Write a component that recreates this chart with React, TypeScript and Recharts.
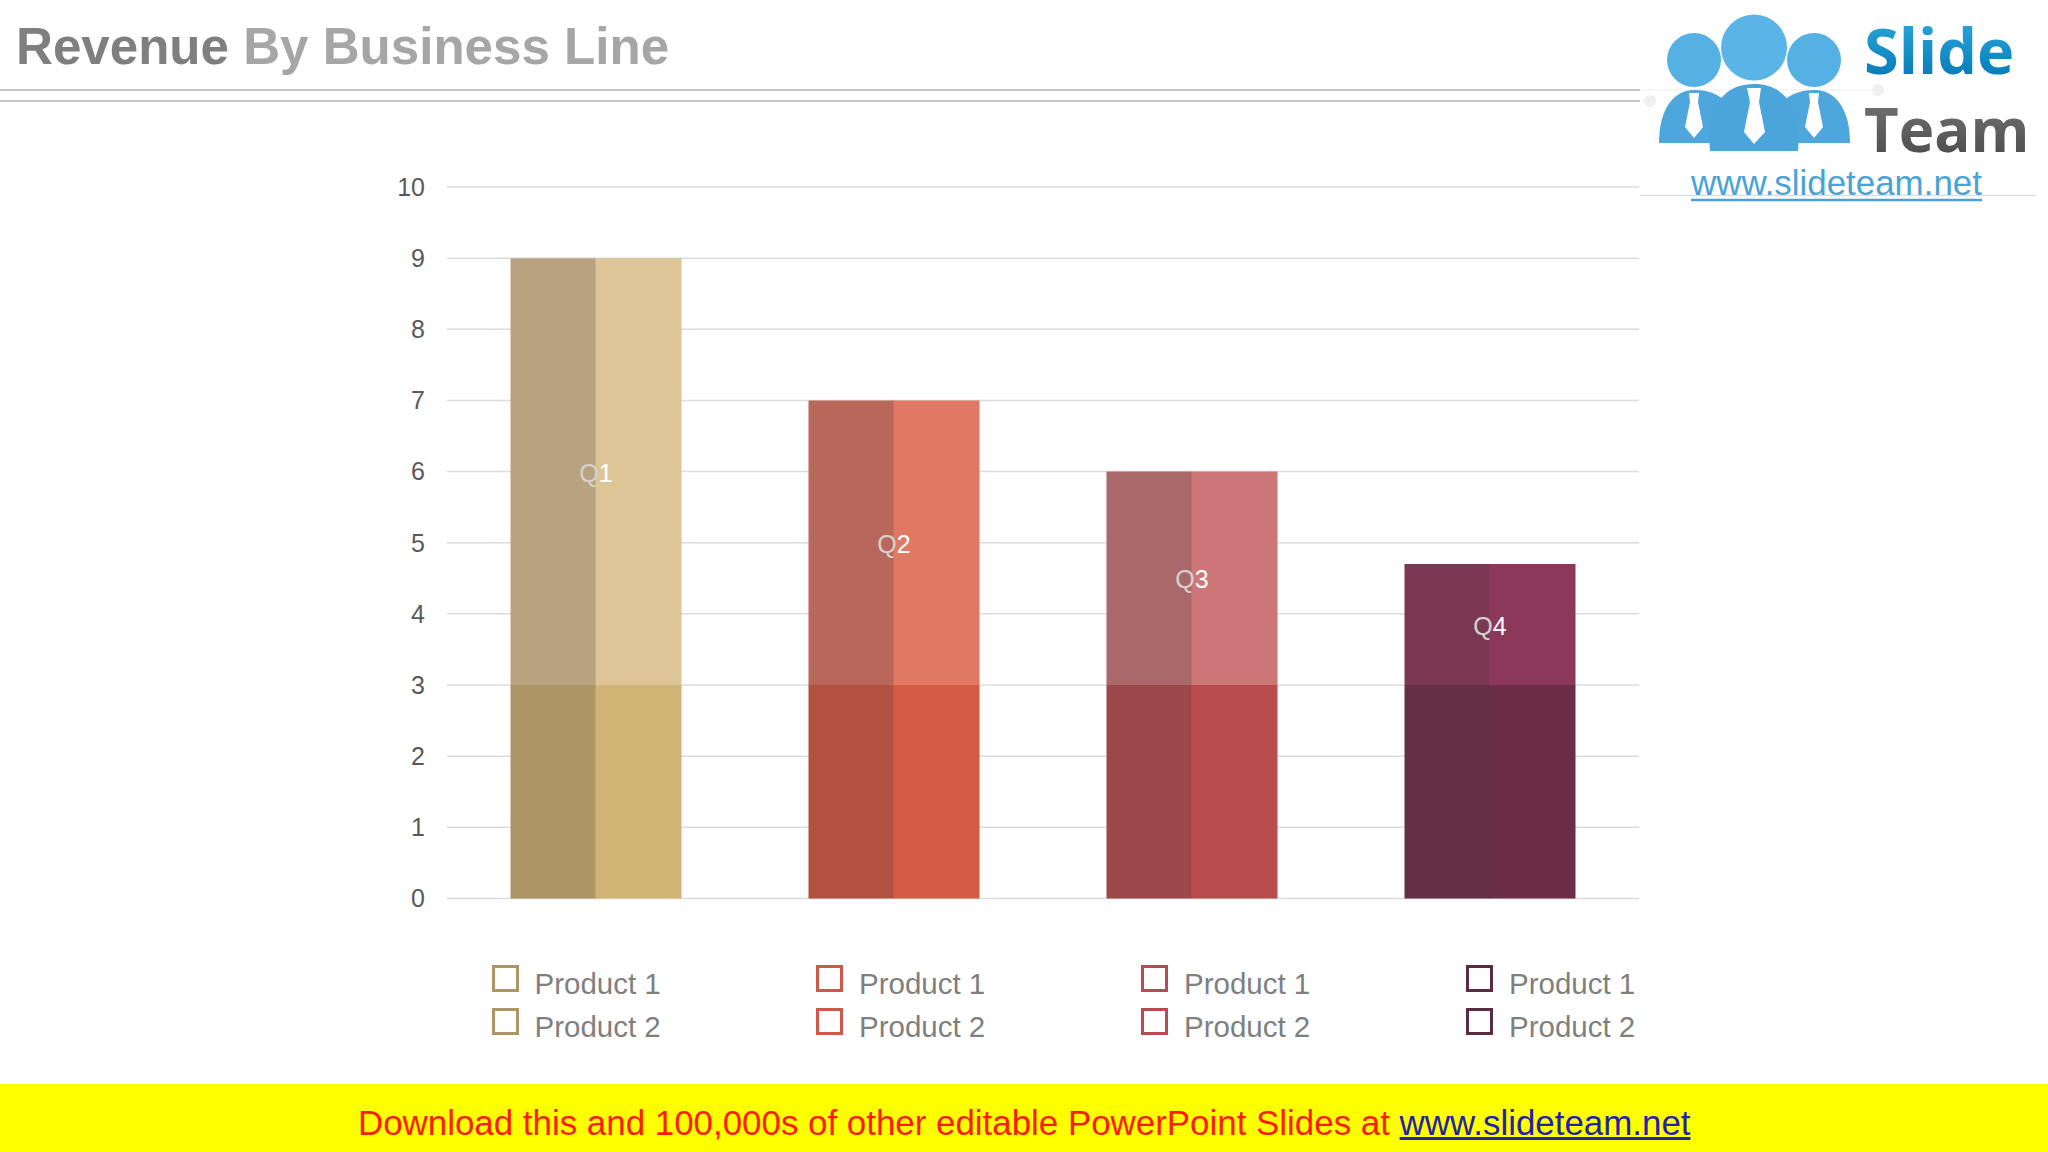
import React from "react";
import { BarChart, Bar, XAxis, YAxis, CartesianGrid, Cell, LabelList } from "recharts";

const quarters = ["Q1", "Q2", "Q3", "Q4"];
const product1Base = [3, 3, 3, 3];
const product1Top = [6, 4, 3, 1.7];
const product2Base = [3, 3, 3, 3];
const product2Top = [6, 4, 3, 1.7];
const yTicks = [0, 1, 2, 3, 4, 5, 6, 7, 8, 9, 10];
const legendNames = ["Product 1", "Product 2"];

const leftBaseColors = ["#ad9566", "#b15240", "#9c484a", "#643046"];
const leftTopColors = ["#b7a380", "#b9675a", "#ab686a", "#7a3853"];
const rightBaseColors = ["#d0b475", "#d55a44", "#b94c4d", "#6c2d46"];
const rightTopColors = ["#dec598", "#e07863", "#cd7779", "#8b385b"];
const legendColors = ["#ad9566", "#d0584a", "#b94c52", "#5a2c42"];

const data = quarters.map((quarter, i) => ({
  quarter,
  product1Base: product1Base[i],
  product1Top: product1Top[i],
  product2Base: product2Base[i],
  product2Top: product2Top[i],
}));

const FONT = "'Liberation Sans', Arial, sans-serif";

function QuarterLabel(props: any) {
  const { x, y, height, value } = props;
  return (
    <text
      x={x + 0.5}
      y={y + height / 2 + 1}
      textAnchor="middle"
      dominantBaseline="central"
      fontFamily={FONT}
      fontSize={25}
      fill="url(#labelSplit)"
    >
      {value}
    </text>
  );
}

function Logo() {
  return (
    <svg width={420} height={210} viewBox="0 0 420 210" style={{ position: "absolute", left: 1628, top: 0 }}>
      <defs>
        <linearGradient id="slideGrad" x1="0" y1="0" x2="0" y2="1">
          <stop offset="0" stopColor="#2fb0e4" />
          <stop offset="1" stopColor="#0070ae" />
        </linearGradient>
        <linearGradient id="teamGrad" x1="0" y1="0" x2="0" y2="1">
          <stop offset="0" stopColor="#7a7a7a" />
          <stop offset="1" stopColor="#454545" />
        </linearGradient>
      </defs>
      <rect x={12} y={0} width={396} height={195} fill="#fff" />
      <line x1={12} y1={90} x2={250} y2={90} stroke="#f3f3f3" strokeWidth={1.5} />
      <circle cx={22} cy={101} r={6} fill="#f0f0f0" />
      <circle cx={250} cy={90} r={6} fill="#f0f0f0" />
      <line x1={12} y1={195.5} x2={408} y2={195.5} stroke="#dddddd" strokeWidth={1.5} />
      <circle cx={66} cy={60} r={27} fill="#55b0e3" />
      <circle cx={186} cy={60} r={27} fill="#55b0e3" />
      <path d="M31 143 C31 110 45 90 66 90 C85 90 95 97 104 108 L90 143 Z" fill="#4da7dc" />
      <path d="M222 143 C222 110 208 90 187 90 C168 90 158 97 148 108 L162 143 Z" fill="#4da7dc" />
      <path d="M61 93 L71 93 L70 102 L75 127 L66 138 L57 127 L62 102 Z" fill="#fff" />
      <path d="M181 93 L191 93 L190 102 L195 127 L186 138 L177 127 L182 102 Z" fill="#fff" />
      <circle cx={126} cy={47.5} r={33} fill="#5ab4e6" />
      <path d="M82 151 C78 108 95 84 126 84 C157 84 174 108 170 151 Z" fill="#4aa5da" />
      <path d="M119 88 L133 88 L131 102 L137 132 L126 144 L116 132 L122 102 Z" fill="#fff" />
      <text x={236} y={74} fontFamily="'Open Sans', sans-serif" fontWeight={700} fontSize={63} fill="url(#slideGrad)">Slide</text>
      <text x={236} y={152} fontFamily="'Open Sans', sans-serif" fontWeight={700} fontSize={60} fill="url(#teamGrad)">Team</text>
      <text x={63} y={195} fontFamily={FONT} fontSize={34.9} fill="#4aa3d4">www.slideteam.net</text>
      <line x1={63} y1={200} x2={354} y2={200} stroke="#4aa3d4" strokeWidth={2.5} />
    </svg>
  );
}

function LegendBlock() {
  const boxX = [491.5, 816, 1141, 1466];
  return (
    <>
      {boxX.map((x, c) =>
        legendNames.map((name, r) => (
          <React.Fragment key={`${c}-${r}`}>
            <div
              style={{
                position: "absolute",
                left: x,
                top: 965 + r * 43,
                width: 27,
                height: 27,
                boxSizing: "border-box",
                border: `3.5px solid ${legendColors[c]}`,
              }}
            />
            <div
              style={{
                position: "absolute",
                left: x + 43,
                top: 966 + r * 43,
                fontFamily: FONT,
                fontSize: 29.5,
                lineHeight: "36px",
                color: "#7f7f7f",
                whiteSpace: "nowrap",
              }}
            >
              {name}
            </div>
          </React.Fragment>
        ))
      )}
    </>
  );
}

export default function App() {
  return (
    <div style={{ position: "fixed", left: 0, top: 0, width: 2048, height: 1152, background: "#fff", overflow: "hidden" }}>
      <div
        style={{
          position: "absolute",
          left: 16,
          top: 18,
          fontFamily: FONT,
          fontWeight: 700,
          fontSize: 51.1,
          lineHeight: "58px",
          whiteSpace: "nowrap",
        }}
      >
        <span style={{ color: "#7f7f7f" }}>Revenue</span>
        <span style={{ color: "#a6a6a6" }}> By Business Line</span>
      </div>
      <div style={{ position: "absolute", left: 0, top: 89, width: 1640, height: 2, background: "#c6c6c6" }} />
      <div style={{ position: "absolute", left: 0, top: 100, width: 1640, height: 2, background: "#c6c6c6" }} />

      <div style={{ position: "absolute", left: 0, top: 0 }}>
        <BarChart
          width={2048}
          height={1152}
          data={data}
          barGap={-1}
          barCategoryGap={63.5}
          margin={{ top: 187, bottom: 253.57, left: 387, right: 409 }}
        >
          <defs>
            <linearGradient id="labelSplit" x1="0" y1="0" x2="1" y2="0">
              <stop offset="0.56" stopColor="#d6d1c9" />
              <stop offset="0.56" stopColor="#ffffff" />
            </linearGradient>
          </defs>
          <CartesianGrid horizontal vertical={false} stroke="#dcdcdc" strokeWidth={1.5} />
          <XAxis dataKey="quarter" hide />
          <YAxis
            width={60}
            domain={[0, 10]}
            ticks={yTicks}
            interval={0}
            tickLine={false}
            axisLine={false}
            tickMargin={16}
            tick={{ fontFamily: FONT, fontSize: 25, fill: "#595959" }}
          />
          <Bar dataKey="product1Base" stackId="p1" isAnimationActive={false}>
            {quarters.map((q, i) => <Cell key={q} fill={leftBaseColors[i]} />)}
          </Bar>
          <Bar dataKey="product1Top" stackId="p1" isAnimationActive={false}>
            {quarters.map((q, i) => <Cell key={q} fill={leftTopColors[i]} />)}
          </Bar>
          <Bar dataKey="product2Base" stackId="p2" isAnimationActive={false}>
            {quarters.map((q, i) => <Cell key={q} fill={rightBaseColors[i]} />)}
          </Bar>
          <Bar dataKey="product2Top" stackId="p2" isAnimationActive={false}>
            {quarters.map((q, i) => <Cell key={q} fill={rightTopColors[i]} />)}
            <LabelList dataKey="quarter" content={<QuarterLabel />} />
          </Bar>
        </BarChart>
      </div>

      <LegendBlock />
      <Logo />

      <div style={{ position: "absolute", left: 0, top: 1084, width: 2048, height: 68, background: "#ffff00" }} />
      <div
        style={{
          position: "absolute",
          left: 358,
          top: 1102,
          fontFamily: FONT,
          fontSize: 34.9,
          lineHeight: "42px",
          color: "#ff1a00",
          whiteSpace: "nowrap",
        }}
      >
        Download this and 100,000s of other editable PowerPoint Slides at{" "}
        <span style={{ color: "#2222aa", textDecoration: "underline" }}>www.slideteam.net</span>
      </div>
    </div>
  );
}
